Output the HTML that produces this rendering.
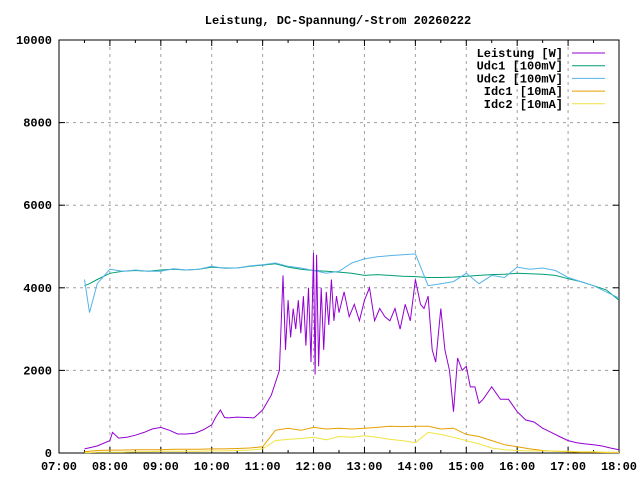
<!DOCTYPE html>
<html><head><meta charset="utf-8"><style>
body{margin:0;background:#fff}
svg text{font-family:"Liberation Mono",monospace;font-size:12px;font-weight:bold;fill:#000}
</style></head><body>
<svg id="chart" width="640" height="480" xmlns="http://www.w3.org/2000/svg">
<rect width="640" height="480" fill="#fff"/>
<text x="338" y="24" text-anchor="middle">Leistung, DC-Spannung/-Strom 20260222</text>
<g id="grid"></g><g id="axes"></g><g id="series"></g>
<g id="legend"></g>
</svg>
<script>
const xTicks=[7,8,9,10,11,12,13,14,15,16,17,18];
const xTickLabels=["07:00","08:00","09:00","10:00","11:00","12:00","13:00","14:00","15:00","16:00","17:00","18:00"];
const yTicks=[0,2000,4000,6000,8000,10000];
const seriesNames=["Leistung [W]","Udc1 [100mV]","Udc2 [100mV]","Idc1 [10mA]","Idc2 [10mA]"];
const seriesColors=["#9400d3","#009e73","#56b4e9","#e69f00","#f0e442"];
const tP=[7.5,7.75,8,8.05,8.17,8.33,8.5,8.67,8.83,9,9.17,9.33,9.5,9.67,9.83,10,10.08,10.17,10.25,10.33,10.5,10.67,10.83,11,11.17,11.33,11.4,11.45,11.5,11.55,11.6,11.65,11.7,11.75,11.8,11.85,11.9,11.95,12,12.03,12.06,12.1,12.15,12.2,12.25,12.3,12.35,12.4,12.45,12.5,12.6,12.7,12.8,12.9,13,13.1,13.2,13.3,13.4,13.5,13.6,13.7,13.8,13.9,14,14.1,14.17,14.25,14.33,14.4,14.5,14.58,14.67,14.75,14.83,14.92,15,15.08,15.17,15.25,15.33,15.5,15.67,15.83,16,16.17,16.33,16.5,16.67,16.83,17,17.17,17.33,17.5,17.67,17.83,18];
const vP=[100,170,300,500,360,380,430,500,580,620,550,460,460,480,560,680,870,1040,860,850,870,860,850,1040,1400,2000,4300,2500,3700,2800,3500,3000,3700,2900,3800,2600,4000,2200,4850,1900,4800,2100,4000,2500,3900,3100,4200,3200,3800,3400,3900,3300,3600,3200,3700,4000,3200,3500,3300,3200,3500,3000,3600,3200,4200,3600,3500,3800,2500,2200,3500,2500,2000,1000,2300,2000,2100,1600,1600,1200,1300,1600,1300,1300,1000,800,750,600,500,400,300,250,220,200,170,120,80];
const tU=[7.5,7.6,7.75,8,8.25,8.5,8.75,9,9.25,9.5,9.75,10,10.25,10.5,10.75,11,11.25,11.5,11.75,12,12.25,12.5,12.75,13,13.25,13.5,13.75,14,14.25,14.5,14.75,15,15.25,15.5,15.75,16,16.25,16.5,16.75,17,17.25,17.5,17.75,18];
const vU1=[4050,4100,4200,4350,4400,4420,4400,4430,4450,4430,4450,4500,4480,4480,4520,4550,4580,4500,4450,4420,4400,4380,4350,4300,4320,4300,4280,4270,4250,4250,4260,4280,4300,4320,4330,4350,4340,4330,4300,4220,4150,4050,3950,3700];
const vU2=[4200,3400,4100,4450,4400,4430,4400,4400,4460,4430,4450,4520,4470,4480,4530,4560,4600,4520,4480,4420,4350,4400,4600,4700,4750,4780,4800,4820,4050,4100,4150,4350,4100,4300,4250,4500,4450,4480,4420,4250,4150,4050,3900,3750];
const vI1=[30,40,60,70,70,80,80,80,90,90,90,100,100,110,120,150,550,600,550,620,580,600,580,600,620,650,640,650,650,580,600,450,400,300,200,150,100,60,40,30,20,20,10,10];
const vI2=[10,10,20,20,20,30,30,40,40,40,40,50,50,60,70,100,300,330,350,380,320,400,380,420,380,330,300,250,500,450,380,300,220,120,80,60,50,50,40,40,30,30,20,20];
const tSeries=[tP,tU,tU,tU,tU];
const vSeries=[vP,vU1,vU2,vI1,vI2];
const L=59,R=619,T=40,B=453;
function xs(t){return L+(t-7)/11*(R-L);}
function ys(v){return B-v/10000*(B-T);}
const NS="http://www.w3.org/2000/svg";
function mk(tag,attrs,parent){const e=document.createElementNS(NS,tag);for(const k in attrs)e.setAttribute(k,attrs[k]);parent.appendChild(e);return e;}
const grid=document.getElementById('grid'),axes=document.getElementById('axes'),ser=document.getElementById('series'),leg=document.getElementById('legend');
yTicks.forEach(v=>{const y=ys(v);
 if(v>0&&v<10000){const g=mk('line',{x1:L,x2:R,y1:y,y2:y,stroke:'#a0a0a0','stroke-dasharray':'3,4'},grid);
 
 }
 const tl=mk('text',{x:L-7,y:y+4,'text-anchor':'end'},axes);tl.textContent=v;
 
 
 mk('line',{x1:L,x2:L+6,y1:y,y2:y,stroke:'#000'},axes);mk('line',{x1:R,x2:R-6,y1:y,y2:y,stroke:'#000'},axes);});
xTicks.forEach((t,i)=>{const x=xs(t);
 if(i>0&&i<xTicks.length-1){const g=mk('line',{x1:x,x2:x,y1:T,y2:B,stroke:'#a0a0a0','stroke-dasharray':'3,4'},grid);
 
 }
 const tl=mk('text',{x:x,y:B+17,'text-anchor':'middle'},axes);tl.textContent=xTickLabels[i];
 
 
 mk('line',{x1:x,x2:x,y1:B,y2:B-6,stroke:'#000'},axes);mk('line',{x1:x,x2:x,y1:T,y2:T+6,stroke:'#000'},axes);
 if(i<xTicks.length-1){const xm=xs(t+0.5);mk('line',{x1:xm,x2:xm,y1:B,y2:B-3,stroke:'#000'},axes);mk('line',{x1:xm,x2:xm,y1:T,y2:T+3,stroke:'#000'},axes);}});
const border=mk('rect',{x:L,y:T,width:R-L,height:B-T,fill:'none',stroke:'#000'},axes);


[1,2,0,3,4].forEach(i=>{const ts=tSeries[i],vs=vSeries[i];
 const pts=ts.map((t,j)=>xs(t).toFixed(1)+','+ys(vs[j]).toFixed(1)).join(' ');
 const p=mk('polyline',{points:pts,fill:'none',stroke:seriesColors[i],'stroke-width':1},ser);
 
 });
seriesNames.forEach((n,i)=>{const y=53+i*12.7;
 const tx=mk('text',{x:563,y:y+4,'text-anchor':'end'},leg);tx.textContent=n;
 
 
 const ln=mk('line',{x1:572,x2:605,y1:y,y2:y,stroke:seriesColors[i]},leg);
 
 });
</script>
</body></html>
